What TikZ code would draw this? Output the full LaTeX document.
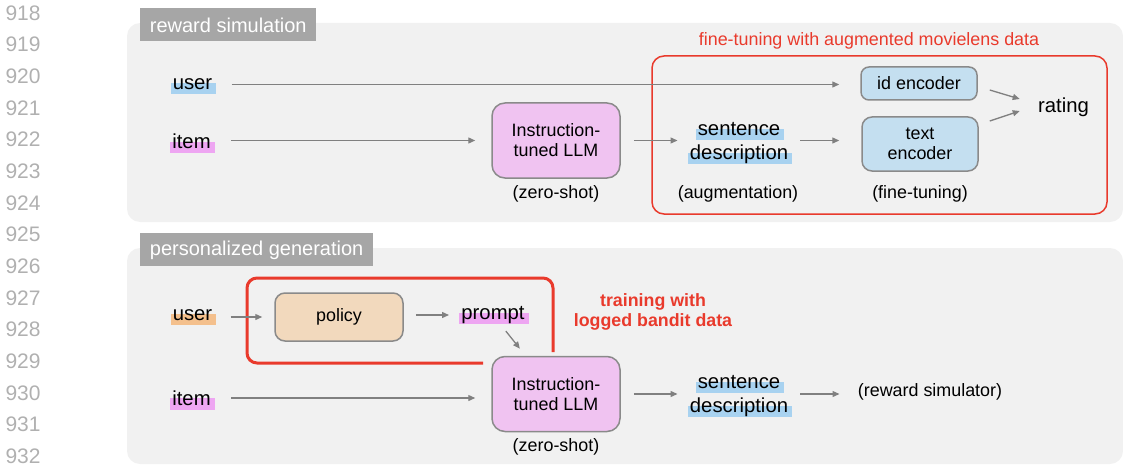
\documentclass[tikz,border=0pt]{standalone}
\usepackage{fontspec}
\setmainfont{Liberation Sans}
\usetikzlibrary{arrows.meta}

\definecolor{panel}{HTML}{F1F1F1}
\definecolor{tabgray}{HTML}{A6A6A6}
\definecolor{lngray}{HTML}{B0B0B0}
\definecolor{flowgray}{HTML}{808080}
\definecolor{boxline}{HTML}{8A8A8A}
\definecolor{llmpink}{HTML}{F0C3F1}
\definecolor{encblue}{HTML}{C4DFF0}
\definecolor{poltan}{HTML}{F2D9BD}
\definecolor{hlblue}{HTML}{A8D2F0}
\definecolor{hlpink}{HTML}{EEA6F2}
\definecolor{hlorange}{HTML}{F4C08D}
\definecolor{tunedred}{HTML}{E93A2C}

\newsavebox\hlbox
\newcommand\hlt[2]{\sbox\hlbox{#2}\rlap{\smash{\kern-1pt\textcolor{#1}{\rule[-2.2pt]{\dimexpr\wd\hlbox+3pt\relax}{5.6pt}}}}\usebox\hlbox}
\newcommand\lblsize{\fontsize{10.15}{12}\selectfont}
\newcommand\notesize{\fontsize{8.95}{10}\selectfont}

\tikzset{
	lbl/.style={inner sep=0pt, font=\lblsize},
	note/.style={inner sep=0pt, font=\notesize},
	blk/.style={draw=boxline, line width=0.75pt, rounded corners=6.5pt, align=center, font=\notesize},
	tab/.style={fill=tabgray, text=white, anchor=north west, inner xsep=4.75pt, inner ysep=0pt, minimum height=16.5pt, font=\fontsize{10}{12}\selectfont},
	flow/.style={draw=flowgray, line width=0.65pt, ->},
	lineno/.style={anchor=east, text=lngray, inner sep=0pt, font=\fontsize{10.5}{12}\selectfont}
}

\begin{document}
\begin{tikzpicture}[x=0.5pt, y=-0.5pt, >={Triangle[length=3.5pt,width=3pt]}]
	\useasboundingbox (0,0) rectangle (1123,465);
	\foreach \n in {0,...,14}
		\node[lineno] (ln\n) at (41,{13+31.65*\n}) {\the\numexpr918+\n\relax};

	\fill[panel, rounded corners=6.5pt] (127,23) rectangle (1123,222);
	\fill[panel, rounded corners=6.5pt] (127,248) rectangle (1123,464);
	\node[tab] (sim) at (140,8) {reward simulation};
	\node[tab] (gen) at (140,233) {personalized generation};

	\draw[tunedred, line width=0.75pt, rounded corners=6pt] (652,56) rectangle (1107,214);
	\node[note, text=tunedred] (augtitle) at (869,41) {fine-tuning with augmented movielens data};

	\node[lbl] (user) at (192.5,84.5) {\hlt{hlblue}{user}};
	\node[lbl] (item) at (191.5,141.5) {\hlt{hlpink}{item}};
	\node[blk, fill=llmpink, minimum width=64pt, minimum height=37.5pt] (llm) at (556,140.5) {Instruction-\\tuned LLM};
	\node[note] (zs) at (556,194) {(zero-shot)};
	\node[lbl, align=center] (sent) at (739,143) {\hlt{hlblue}{sentence}\\\hlt{hlblue}{description}};
	\node[note] (aug) at (738,194) {(augmentation)};
	\node[blk, fill=encblue, minimum width=58pt, minimum height=16.5pt, rounded corners=4pt] (idenc) at (919,83.5) {id encoder};
	\node[blk, fill=encblue, minimum width=58pt, minimum height=27pt, rounded corners=5pt] (textenc) at (920,144) {text\\encoder};
	\node[note] (ft) at (920,194) {(fine-tuning)};
	\node[lbl] (rating) at (1063.5,107) {rating};

	\draw[flow, shorten <=9.5pt, shorten >=10.5pt] (user) -- (user -| idenc.west);
	\draw[flow, shorten <=10pt, shorten >=8pt] (llm -| item.east) -- (llm.west);
	\draw[flow, shorten <=6.5pt, shorten >=6pt] (llm) -- (llm -| sent.west);
	\draw[flow, shorten <=6pt, shorten >=11pt] (llm -| sent.east) -- (llm -| textenc.west);
	\draw[flow] ([xshift=6pt, yshift=-3.25pt]idenc.east) -- ([xshift=-9pt, yshift=4pt]rating.west);
	\draw[flow] ([xshift=5.5pt, yshift=11.5pt]textenc.east) -- ([xshift=-9pt, yshift=-2pt]rating.west);

	\draw[tunedred, line width=1.5pt, rounded corners=5pt] (483,363) -- (247,363) -- (247,278) -- (553,278) -- (553,352);
	\node[note, font=\fontsize{8.9}{10}\selectfont\bfseries, text=tunedred, align=center] (bandit) at (653,312) {training with\\logged bandit data};

	\node[lbl] (user2) at (192.5,315) {\hlt{hlorange}{user}};
	\node[blk, fill=poltan, minimum width=64pt, minimum height=24pt, rounded corners=5pt] (policy) at (339,317) {policy};
	\node[lbl] (prompt) at (493,315) {\hlt{hlpink}{prompt}};
	\node[lbl] (item2) at (191.5,398) {\hlt{hlpink}{item}};
	\node[blk, fill=llmpink, minimum width=64pt, minimum height=37.5pt] (llm2) at (556,394) {Instruction-\\tuned LLM};
	\node[note] (zs2) at (556,447) {(zero-shot)};
	\node[lbl, align=center] (sent2) at (739,396) {\hlt{hlblue}{sentence}\\\hlt{hlblue}{description}};
	\node[note] (reward) at (930,392) {(reward simulator)};

	\draw[flow, shorten <=9pt, shorten >=6pt] (user2.east |- policy) -- (policy);
	\draw[flow, shorten <=6pt, shorten >=6pt] (policy.east |- prompt) -- (prompt);
	\draw[flow, shorten <=4.5pt, shorten >=4.5pt] (prompt) -- (llm2);
	\draw[flow, shorten <=10pt, shorten >=8pt] (item2) -- (item2 -| llm2.west);
	\draw[flow, shorten <=6.5pt, shorten >=6pt] (llm2) -- (llm2 -| sent2.west);
	\draw[flow, shorten <=6pt, shorten >=9pt] (llm2 -| sent2.east) -- (llm2 -| reward.west);
\end{tikzpicture}
\end{document}
